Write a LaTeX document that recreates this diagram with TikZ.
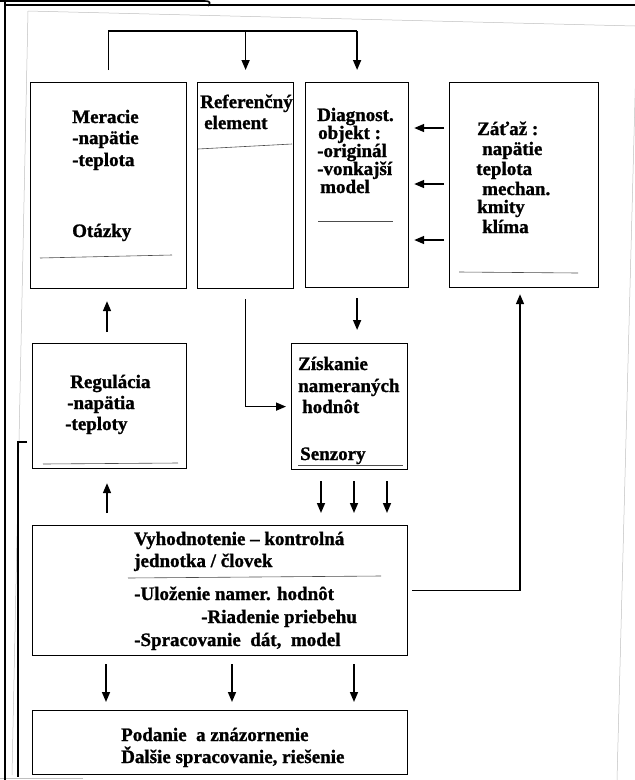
\documentclass[tikz,border=0pt]{standalone}
\usepackage{fontspec}
\setmainfont{Liberation Serif}[BoldFeatures={FakeBold=1.2}]
\usetikzlibrary{arrows.meta}
\begin{document}
\begin{tikzpicture}[x=1pt,y=-1pt,
  box/.style={draw, line width=1.2pt, inner sep=0pt, anchor=north west},
  lbl/.style={anchor=base west, inner sep=0pt, font=\fontsize{19}{21}\selectfont\bfseries},
  conn/.style={line width=1.6pt},
  arr/.style={conn, -{Triangle[length=10pt,width=8pt]}},
  sepline/.style={line width=0.6pt, black!70},
  scan/.style={line width=0.5pt, black!25}]
\useasboundingbox (0,0) rectangle (635,780);

% scan edges
\draw[scan] (28,11) -- (635,26);
\draw[scan] (28,11) -- (12,775);
\draw[scan] (636,60) -- (617,780);
\draw[scan] (0,778) -- (83,778);

% frame
\draw[line width=2pt] (5,0) -- (5,780);
\draw[line width=2pt] (5,5) -- (635,5);
\draw[line width=1.6pt] (0,1) -- (205,1) .. controls (210,1) and (211,3) .. (208,6);

% boxes
\node[box, minimum width=156pt, minimum height=206pt] (mer) at (30,82) {};
\node[box, minimum width=96pt, minimum height=206pt] (ref) at (197,82) {};
\node[box, minimum width=103pt, minimum height=205pt] (diag) at (305,82) {};
\node[box, minimum width=149pt, minimum height=205pt] (zat) at (449,82) {};
\node[box, minimum width=154pt, minimum height=125pt] (reg) at (32,343) {};
\node[box, minimum width=116pt, minimum height=126pt] (zisk) at (291,343) {};
\node[box, minimum width=375pt, minimum height=130pt] (vyh) at (32,525) {};
\node[box, minimum width=375pt, minimum height=64pt] (pod) at (32,710) {};

% separator lines inside boxes
\draw[sepline] (40,258) -- (172,255);
\draw[sepline] (198,149) -- (292,144);
\draw[sepline] (318,221) -- (393,221);
\draw[sepline] (459,272) -- (578,273);
\draw[sepline] (43,464) -- (178,463);
\draw[sepline] (298,465) -- (403,465);
\draw[sepline] (128,578) -- (381,576);

% texts
\node[lbl] (m1) at (72,123) {Meracie};
\node[lbl] (m2) at (72,144) {-napätie};
\node[lbl] (m3) at (72,166) {-teplota};
\node[lbl] (m4) at (72,237) {Otázky};

\node[lbl] (r1) at (200,108) {Referenčný};
\node[lbl] (r2) at (204,129) {element};

\node[lbl] (d1) at (317,121) {Diagnost.};
\node[lbl] (d2) at (318,139) {objekt :};
\node[lbl] (d3) at (317,157) {-originál};
\node[lbl] (d4) at (317,175) {-vonkajší};
\node[lbl] (d5) at (320,193) {model};

\node[lbl] (z1) at (477,135) {Záťaž :};
\node[lbl] (z2) at (482,155) {napätie};
\node[lbl] (z3) at (476,175) {teplota};
\node[lbl] (z4) at (482,195) {mechan.};
\node[lbl] (z5) at (477,213) {kmity};
\node[lbl] (z6) at (482,233) {klíma};

\node[lbl] (g1) at (70,388) {Regulácia};
\node[lbl] (g2) at (67,409) {-napätia};
\node[lbl] (g3) at (65,430) {-teploty};

\node[lbl] (s1) at (298,370) {Získanie};
\node[lbl] (s2) at (298,392) {nameraných};
\node[lbl] (s3) at (302,413) {hodnôt};
\node[lbl] (s4) at (300,460) {Senzory};

\node[lbl] (v1) at (134,545) {Vyhodnotenie – kontrolná};
\node[lbl] (v2) at (134,567) {jednotka / človek};
\node[lbl] (v3) at (134,600) {-Uloženie namer. hodnôt};
\node[lbl] (v4) at (201,623) {-Riadenie priebehu};
\node[lbl] (v5) at (134,646) {-Spracovanie\ \ dát,\ \ model};

\node[lbl] (p1) at (121,741) {Podanie\ \ a znázornenie};
\node[lbl] (p2) at (121,763) {Ďalšie spracovanie, riešenie};

% helper coordinates
\coordinate (rail) at (0,31);
\coordinate (l1) at (0,128);
\coordinate (l2) at (0,184);
\coordinate (l3) at (0,240);
\coordinate (a1) at (321,0);
\coordinate (a2) at (354,0);
\coordinate (a3) at (387,0);
\coordinate (b1) at (106,0);
\coordinate (b2) at (232,0);
\coordinate (b3) at (354,0);
\coordinate (fb) at (520,0);
\coordinate (up) at (107,0);

% top rail
\draw[conn] ([yshift=12pt]mer.north) -- (mer.north |- rail) -- (diag.north |- rail);
\draw[arr] (diag.north |- rail) -- ([yshift=12pt]diag.north);
\draw[arr] (ref.north |- rail) -- ([yshift=12pt]ref.north);

% load -> object
\draw[arr, shorten <=5pt, shorten >=5pt] (zat.west |- l1) -- (diag.east |- l1);
\draw[arr, shorten <=5pt, shorten >=5pt] (zat.west |- l2) -- (diag.east |- l2);
\draw[arr, shorten <=5pt, shorten >=5pt] (zat.west |- l3) -- (diag.east |- l3);

% regulation -> measuring
\draw[arr, shorten <=11pt, shorten >=12pt] (up |- reg.north) -- (up |- mer.south);
% reference -> acquisition
\draw[arr, shorten <=10pt, shorten >=5pt] (ref.south) |- (zisk.west);
% object -> acquisition
\draw[arr, shorten <=10pt, shorten >=13pt] (diag.south) -- (diag.south |- zisk.north);
% acquisition -> evaluation
\draw[arr, shorten <=11pt, shorten >=12pt] (a1 |- zisk.south) -- (a1 |- vyh.north);
\draw[arr, shorten <=11pt, shorten >=12pt] (a2 |- zisk.south) -- (a2 |- vyh.north);
\draw[arr, shorten <=11pt, shorten >=12pt] (a3 |- zisk.south) -- (a3 |- vyh.north);
% evaluation -> regulation
\draw[arr, shorten <=12pt, shorten >=14pt] (up |- vyh.north) -- (up |- reg.south);
% evaluation -> load
\draw[arr, shorten <=4pt, shorten >=6pt] (vyh.east) -| (fb |- zat.south);
% evaluation -> presentation
\draw[arr, shorten <=8pt, shorten >=8pt] (b1 |- vyh.south) -- (b1 |- pod.north);
\draw[arr, shorten <=8pt, shorten >=8pt] (b2 |- vyh.south) -- (b2 |- pod.north);
\draw[arr, shorten <=8pt, shorten >=8pt] (b3 |- vyh.south) -- (b3 |- pod.north);

% left feedback line
\coordinate (lt) at (27,442);
\coordinate (lc) at (18,442);
\coordinate (lb) at (18,777);
\draw[line width=1.2pt] (lt) -- (lc) -- (lb);
\end{tikzpicture}
\end{document}
